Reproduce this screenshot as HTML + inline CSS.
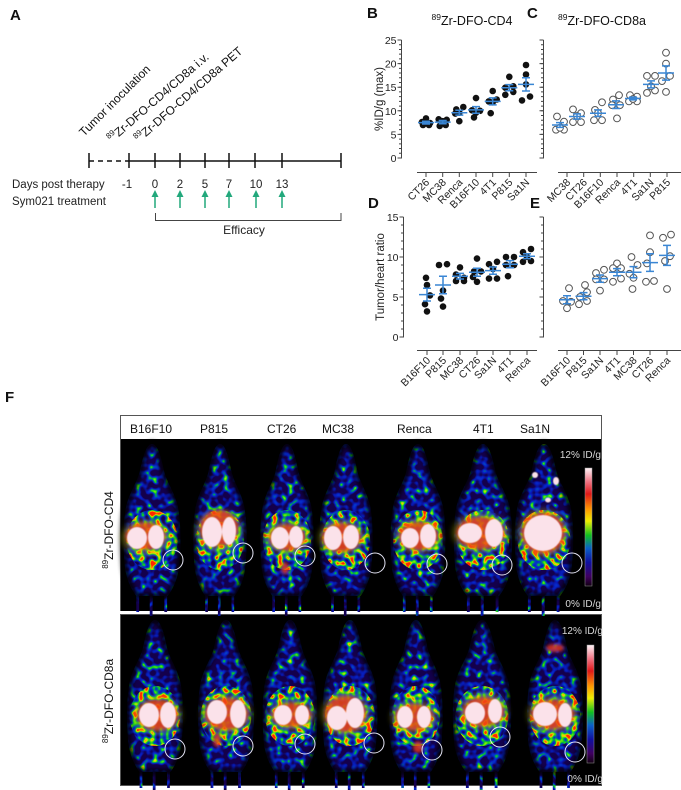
<!DOCTYPE html>
<html><head><meta charset="utf-8"><style>html,body{margin:0;padding:0;background:#fff}svg{display:block}text{font-family:"Liberation Sans",Arial,sans-serif}</style></head>
<body>
<svg width="681" height="790" viewBox="0 0 681 790" xmlns="http://www.w3.org/2000/svg">
<defs>
<path id="mb" d="M0,0 C5,0 8,12 11,28 C14,40 20,48 23,62 C26,78 26,105 24,125 C22,138 18,146 14,152 L-14,152 C-18,146 -22,138 -24,125 C-26,105 -26,78 -23,62 C-20,48 -14,40 -11,28 C-8,12 -5,0 0,0 Z M-14,150 h2.5 v18 h-2.5 Z M-2,150 h2.5 v22 h-2.5 Z M11,150 h2.5 v18 h-2.5 Z"/>
<path id="mo" d="M0,0 C5,0 8,12 11,28 C14,40 20,48 23,62 C26,78 26,105 24,125 C22,138 18,146 14,152 L-14,152 C-18,146 -22,138 -24,125 C-26,105 -26,78 -23,62 C-20,48 -14,40 -11,28 C-8,12 -5,0 0,0 Z"/>
<ellipse id="tor" cx="0" cy="96" rx="23" ry="30"/>
<clipPath id="cbT">
<use href="#mb" transform="translate(152,444) scale(1.12,1)"/>
<use href="#mb" transform="translate(220,444) scale(1.05,1)"/>
<use href="#mb" transform="translate(287,444) scale(1.05,1)"/>
<use href="#mb" transform="translate(346,444) scale(1.05,1)"/>
<use href="#mb" transform="translate(418,444) scale(1.08,1)"/>
<use href="#mb" transform="translate(483,444) scale(1.15,1)"/>
<use href="#mb" transform="translate(544,444) scale(1.15,1)"/>
</clipPath>
<clipPath id="ctT">
<use href="#tor" transform="translate(152,444) scale(1.12,1)"/>
<use href="#tor" transform="translate(220,444) scale(1.05,1)"/>
<use href="#tor" transform="translate(287,444) scale(1.05,1)"/>
<use href="#tor" transform="translate(346,444) scale(1.05,1)"/>
<use href="#tor" transform="translate(418,444) scale(1.08,1)"/>
<use href="#tor" transform="translate(483,444) scale(1.15,1)"/>
<use href="#tor" transform="translate(544,444) scale(1.15,1)"/>
</clipPath>
<clipPath id="cbB">
<use href="#mb" transform="translate(155,620) scale(1.1,1)"/>
<use href="#mb" transform="translate(226,620) scale(1.1,1)"/>
<use href="#mb" transform="translate(290,620) scale(1.08,1)"/>
<use href="#mb" transform="translate(350,620) scale(1.08,1)"/>
<use href="#mb" transform="translate(416,620) scale(1.05,1)"/>
<use href="#mb" transform="translate(482,620) scale(1.15,1)"/>
<use href="#mb" transform="translate(555,620) scale(1.1,1)"/>
</clipPath>
<clipPath id="ctB">
<use href="#tor" transform="translate(155,620) scale(1.1,1)"/>
<use href="#tor" transform="translate(226,620) scale(1.1,1)"/>
<use href="#tor" transform="translate(290,620) scale(1.08,1)"/>
<use href="#tor" transform="translate(350,620) scale(1.08,1)"/>
<use href="#tor" transform="translate(416,620) scale(1.05,1)"/>
<use href="#tor" transform="translate(482,620) scale(1.15,1)"/>
<use href="#tor" transform="translate(555,620) scale(1.1,1)"/>
</clipPath>
<filter id="sp1" x="100" y="430" width="520" height="370" filterUnits="userSpaceOnUse" color-interpolation-filters="sRGB">
<feTurbulence type="fractalNoise" baseFrequency="0.17" numOctaves="1" seed="7"/>
<feColorMatrix type="matrix" values="2.3 0 0 0 -1.0  2.3 0 0 0 -1.0  2.3 0 0 0 -1.0  0 0 0 0 1"/>
<feComponentTransfer>
<feFuncR type="table" tableValues="0.08 0.06 0.04 0.03 0.02 0.0 0.05 0.4 0.95 1 1"/>
<feFuncG type="table" tableValues="0.0 0.04 0.08 0.12 0.2 0.45 0.8 0.9 0.85 0.4 0.15"/>
<feFuncB type="table" tableValues="0.3 0.45 0.62 0.75 0.8 0.55 0.15 0.05 0 0 0"/>
</feComponentTransfer>
</filter>
<filter id="sp2" x="100" y="430" width="520" height="370" filterUnits="userSpaceOnUse" color-interpolation-filters="sRGB">
<feTurbulence type="fractalNoise" baseFrequency="0.18" numOctaves="1" seed="3"/>
<feColorMatrix type="matrix" values="2.3 0 0 0 -0.65  2.3 0 0 0 -0.65  2.3 0 0 0 -0.65  0 0 0 0 1"/>
<feComponentTransfer>
<feFuncR type="table" tableValues="0.08 0.06 0.04 0.03 0.02 0.0 0.05 0.4 0.95 1 1"/>
<feFuncG type="table" tableValues="0.0 0.04 0.08 0.12 0.2 0.45 0.8 0.9 0.85 0.4 0.15"/>
<feFuncB type="table" tableValues="0.3 0.45 0.62 0.75 0.8 0.55 0.15 0.05 0 0 0"/>
</feComponentTransfer>
</filter>
<filter id="bl3" x="-50%" y="-50%" width="200%" height="200%"><feGaussianBlur stdDeviation="3"/></filter>
<filter id="bl2" x="-50%" y="-50%" width="200%" height="200%"><feGaussianBlur stdDeviation="1.5"/></filter>
<filter id="bl1" x="-50%" y="-50%" width="200%" height="200%"><feGaussianBlur stdDeviation="0.6"/></filter>
<filter id="edge" x="-30%" y="-30%" width="160%" height="160%"><feGaussianBlur stdDeviation="2"/></filter>
<linearGradient id="cbar" x1="0" y1="0" x2="0" y2="1">
<stop offset="0" stop-color="#fff4f8"/>
<stop offset="0.12" stop-color="#f07080"/>
<stop offset="0.22" stop-color="#e01818"/>
<stop offset="0.35" stop-color="#ff9900"/>
<stop offset="0.45" stop-color="#eeee00"/>
<stop offset="0.57" stop-color="#10c020"/>
<stop offset="0.68" stop-color="#0a60c8"/>
<stop offset="0.8" stop-color="#1010a0"/>
<stop offset="0.92" stop-color="#400060"/>
<stop offset="1" stop-color="#120012"/>
</linearGradient>
</defs>
<rect width="681" height="790" fill="#fff"/>

<!-- Panel A -->
<text x="10" y="20" font-size="15" font-weight="bold" fill="#111">A</text>
<g font-size="12" fill="#111">
<text transform="translate(84,137) rotate(-45)">Tumor inoculation</text>
<text transform="translate(112,143) rotate(-41)"><tspan font-size="8" dy="-5">89</tspan><tspan dy="5">Zr-DFO-CD4/CD8a i.v.</tspan></text>
<text transform="translate(139,143) rotate(-41)"><tspan font-size="8" dy="-5">89</tspan><tspan dy="5">Zr-DFO-CD4/CD8a PET</tspan></text>
</g>
<line x1="89" y1="161" x2="129" y2="161" stroke="#111" stroke-width="1.5" stroke-dasharray="5 4"/>
<line x1="129" y1="161" x2="341" y2="161" stroke="#111" stroke-width="1.5"/>
<path d="M89,153V168M129,153V168M155,153V168M180,153V168M205,153V168M229,153V168M255,153V168M282,153V168M341,153V168" stroke="#111" stroke-width="1.5"/>
<g font-size="11.5" fill="#222">
<text x="12" y="188">Days post therapy</text>
<text x="12" y="205">Sym021 treatment</text>
<g text-anchor="middle">
<text x="127" y="188">-1</text><text x="155" y="188">0</text><text x="180" y="188">2</text><text x="205" y="188">5</text><text x="229" y="188">7</text><text x="256" y="188">10</text><text x="282" y="188">13</text>
<text x="244" y="234" font-size="12">Efficacy</text>
</g>
</g>
<g stroke="#22a87c" stroke-width="1.5">
<path d="M155,208V195M180,208V195M205,208V195M229,208V195M256,208V195M282,208V195"/>
</g>
<g fill="#22a87c">
<path d="M151.5,197L155,190L158.5,197Z"/><path d="M176.5,197L180,190L183.5,197Z"/><path d="M201.5,197L205,190L208.5,197Z"/><path d="M225.5,197L229,190L232.5,197Z"/><path d="M252.5,197L256,190L259.5,197Z"/><path d="M278.5,197L282,190L285.5,197Z"/>
</g>
<path d="M155.5,213V220.5H341V213" fill="none" stroke="#444" stroke-width="1"/>

<!-- Panel labels B-E -->
<g font-size="15" font-weight="bold" fill="#111">
<text x="367" y="18">B</text><text x="527" y="18">C</text>
<text x="368" y="208">D</text><text x="530" y="208">E</text>
</g>
<g font-size="12.5" fill="#111" text-anchor="middle">
<text x="472" y="25"><tspan font-size="8.5" dy="-5">89</tspan><tspan dy="5">Zr-DFO-CD4</tspan></text>
<text x="602" y="25"><tspan font-size="8.5" dy="-5">89</tspan><tspan dy="5">Zr-DFO-CD8a</tspan></text>
</g>

<!-- Axes B & C -->
<g stroke="#444" stroke-width="1" fill="none">
<path d="M401.5,40V158.5M397.5,40H401.5M397.5,63.6H401.5M397.5,87.2H401.5M397.5,110.8H401.5M397.5,134.4H401.5M397.5,158H401.5"/>
<path d="M543.5,40V158.5M539.5,40H543.5M539.5,63.6H543.5M539.5,87.2H543.5M539.5,110.8H543.5M539.5,134.4H543.5M539.5,158H543.5"/>
<path d="M417,172.5H537M426,172.5V177M442.7,172.5V177M459.3,172.5V177M476,172.5V177M492.7,172.5V177M509.3,172.5V177M526,172.5V177"/>
<path d="M558,172.5H681M567,172.5V177M583.7,172.5V177M600.3,172.5V177M617,172.5V177M633.7,172.5V177M650.3,172.5V177M667,172.5V177"/>
<!-- D & E -->
<path d="M403.5,217V337.5M399.5,217H403.5M399.5,257H403.5M399.5,297H403.5M399.5,337H403.5"/>
<path d="M543.5,217V337.5M539.5,217H543.5M539.5,257H543.5M539.5,297H543.5M539.5,337H543.5"/>
<path d="M417,350.5H537M427,350.5V355M443,350.5V355M460,350.5V355M477,350.5V355M493,350.5V355M510,350.5V355M527,350.5V355"/>
<path d="M558,350.5H681M567,350.5V355M583.5,350.5V355M600,350.5V355M617,350.5V355M633.5,350.5V355M650,350.5V355M667,350.5V355"/>
</g>
<g stroke="#444" stroke-width="2" fill="none">
<line x1="400" y1="158.5" x2="400" y2="39.5" stroke-dasharray="1 3.72"/>
<line x1="542" y1="158.5" x2="542" y2="39.5" stroke-dasharray="1 3.72"/>
<line x1="402" y1="337.5" x2="402" y2="216.5" stroke-dasharray="1 7"/>
<line x1="542" y1="337.5" x2="542" y2="216.5" stroke-dasharray="1 7"/>
</g>
<g font-size="10.5" fill="#222" text-anchor="end">
<text x="396.5" y="44">25</text><text x="396.5" y="67.6">20</text><text x="396.5" y="91.2">15</text><text x="396.5" y="114.8">10</text><text x="396.5" y="138.4">5</text><text x="396.5" y="162">0</text>
<text x="398.5" y="221">15</text><text x="398.5" y="261">10</text><text x="398.5" y="301">5</text><text x="398.5" y="341">0</text>
</g>
<g font-size="11.5" fill="#222" text-anchor="middle">
<text transform="translate(383,99) rotate(-90)">%ID/g (max)</text>
<text transform="translate(384,277) rotate(-90)">Tumor/heart ratio</text>
</g>
<!-- category labels -->
<g font-size="10.5" fill="#222" text-anchor="end">
<text transform="translate(430,183) rotate(-45)">CT26</text>
<text transform="translate(446.7,183) rotate(-45)">MC38</text>
<text transform="translate(463.3,183) rotate(-45)">Renca</text>
<text transform="translate(480,183) rotate(-45)">B16F10</text>
<text transform="translate(496.7,183) rotate(-45)">4T1</text>
<text transform="translate(513.3,183) rotate(-45)">P815</text>
<text transform="translate(530,183) rotate(-45)">Sa1N</text>
<text transform="translate(571,183) rotate(-45)">MC38</text>
<text transform="translate(587.7,183) rotate(-45)">CT26</text>
<text transform="translate(604.3,183) rotate(-45)">B16F10</text>
<text transform="translate(621,183) rotate(-45)">Renca</text>
<text transform="translate(637.7,183) rotate(-45)">4T1</text>
<text transform="translate(654.3,183) rotate(-45)">Sa1N</text>
<text transform="translate(671,183) rotate(-45)">P815</text>
<text transform="translate(431,361) rotate(-45)">B16F10</text>
<text transform="translate(447,361) rotate(-45)">P815</text>
<text transform="translate(464,361) rotate(-45)">MC38</text>
<text transform="translate(481,361) rotate(-45)">CT26</text>
<text transform="translate(497,361) rotate(-45)">Sa1N</text>
<text transform="translate(514,361) rotate(-45)">4T1</text>
<text transform="translate(531,361) rotate(-45)">Renca</text>
<text transform="translate(571,361) rotate(-45)">B16F10</text>
<text transform="translate(587.5,361) rotate(-45)">P815</text>
<text transform="translate(604,361) rotate(-45)">Sa1N</text>
<text transform="translate(621,361) rotate(-45)">4T1</text>
<text transform="translate(637.5,361) rotate(-45)">MC38</text>
<text transform="translate(654,361) rotate(-45)">CT26</text>
<text transform="translate(671,361) rotate(-45)">Renca</text>
</g>

<!-- B data -->
<g fill="#111">
<circle cx="426" cy="118.4" r="3.3"/><circle cx="422" cy="122.1" r="3.3"/><circle cx="430" cy="123.1" r="3.3"/><circle cx="423" cy="125" r="3.3"/><circle cx="429" cy="125" r="3.3"/>
<circle cx="438.7" cy="119.3" r="3.3"/><circle cx="446.7" cy="119.8" r="3.3"/><circle cx="442.7" cy="121.2" r="3.3"/><circle cx="439.7" cy="125.9" r="3.3"/><circle cx="445.7" cy="125" r="3.3"/>
<circle cx="463.3" cy="107" r="3.3"/><circle cx="456.3" cy="109.4" r="3.3"/><circle cx="459.3" cy="112.7" r="3.3"/><circle cx="455.3" cy="113.6" r="3.3"/><circle cx="459.3" cy="121.2" r="3.3"/>
<circle cx="476" cy="98.1" r="3.3"/><circle cx="472" cy="110.3" r="3.3"/><circle cx="480" cy="110.8" r="3.3"/><circle cx="476" cy="112.7" r="3.3"/><circle cx="474" cy="117.4" r="3.3"/>
<circle cx="492.7" cy="91" r="3.3"/><circle cx="488.7" cy="101.4" r="3.3"/><circle cx="496.7" cy="99.5" r="3.3"/><circle cx="492.7" cy="102.3" r="3.3"/><circle cx="490.7" cy="113.2" r="3.3"/>
<circle cx="509.3" cy="76.8" r="3.3"/><circle cx="513.3" cy="86.3" r="3.3"/><circle cx="505.3" cy="87.7" r="3.3"/><circle cx="505.3" cy="94.8" r="3.3"/><circle cx="513.3" cy="91.9" r="3.3"/>
<circle cx="526" cy="65" r="3.3"/><circle cx="526" cy="74.5" r="3.3"/><circle cx="526" cy="84.4" r="3.3"/><circle cx="522" cy="100.4" r="3.3"/><circle cx="530" cy="96.6" r="3.3"/>
</g>
<!-- D data -->
<g fill="#111">
<circle cx="426" cy="277.8" r="3.3"/><circle cx="427" cy="285" r="3.3"/><circle cx="430" cy="295.4" r="3.3"/><circle cx="425" cy="304.2" r="3.3"/><circle cx="427" cy="311.4" r="3.3"/>
<circle cx="439" cy="265" r="3.3"/><circle cx="447" cy="264.2" r="3.3"/><circle cx="443" cy="290.6" r="3.3"/><circle cx="441" cy="298.6" r="3.3"/><circle cx="443" cy="306.6" r="3.3"/>
<circle cx="460" cy="267.4" r="3.3"/><circle cx="456" cy="274.6" r="3.3"/><circle cx="464" cy="277.8" r="3.3"/><circle cx="456" cy="281" r="3.3"/><circle cx="464" cy="281" r="3.3"/>
<circle cx="477" cy="258.6" r="3.3"/><circle cx="474" cy="271.4" r="3.3"/><circle cx="481" cy="271.4" r="3.3"/><circle cx="473" cy="277" r="3.3"/><circle cx="477" cy="281.8" r="3.3"/>
<circle cx="489" cy="264.2" r="3.3"/><circle cx="497" cy="261.8" r="3.3"/><circle cx="493" cy="269" r="3.3"/><circle cx="489" cy="278.6" r="3.3"/><circle cx="497" cy="278.6" r="3.3"/>
<circle cx="506" cy="257" r="3.3"/><circle cx="514" cy="257" r="3.3"/><circle cx="506" cy="265" r="3.3"/><circle cx="514" cy="265" r="3.3"/><circle cx="508" cy="276.2" r="3.3"/>
<circle cx="531" cy="249" r="3.3"/><circle cx="523" cy="252.2" r="3.3"/><circle cx="523" cy="261.8" r="3.3"/><circle cx="531" cy="261" r="3.3"/><circle cx="527" cy="257" r="3.3"/>
</g>
<!-- C data -->
<g fill="#fff" stroke="#555" stroke-width="1">
<circle cx="557" cy="116.5" r="3.4"/><circle cx="564" cy="121.7" r="3.4"/><circle cx="556" cy="129.7" r="3.4"/><circle cx="564" cy="129.7" r="3.4"/><circle cx="560" cy="127.8" r="3.4"/>
<circle cx="573" cy="109.4" r="3.4"/><circle cx="581" cy="113.2" r="3.4"/><circle cx="573" cy="122.1" r="3.4"/><circle cx="581" cy="122.1" r="3.4"/><circle cx="577" cy="116" r="3.4"/>
<circle cx="602" cy="102.3" r="3.4"/><circle cx="595" cy="109.9" r="3.4"/><circle cx="594" cy="120.2" r="3.4"/><circle cx="602" cy="120.2" r="3.4"/><circle cx="598" cy="113.2" r="3.4"/>
<circle cx="619" cy="95.2" r="3.4"/><circle cx="613" cy="99.5" r="3.4"/><circle cx="620" cy="105.1" r="3.4"/><circle cx="612" cy="105.1" r="3.4"/><circle cx="617" cy="118.4" r="3.4"/>
<circle cx="630" cy="95.2" r="3.4"/><circle cx="637" cy="96.6" r="3.4"/><circle cx="629" cy="101.4" r="3.4"/><circle cx="637" cy="101.4" r="3.4"/><circle cx="633" cy="99" r="3.4"/>
<circle cx="647" cy="75.9" r="3.4"/><circle cx="655" cy="75.9" r="3.4"/><circle cx="647" cy="92.9" r="3.4"/><circle cx="655" cy="90.5" r="3.4"/><circle cx="651" cy="86.3" r="3.4"/>
<circle cx="666" cy="52.7" r="3.4"/><circle cx="666" cy="63.6" r="3.4"/><circle cx="662" cy="81.1" r="3.4"/><circle cx="670" cy="75.9" r="3.4"/><circle cx="666" cy="91.9" r="3.4"/>
</g>
<!-- E data -->
<g fill="#fff" stroke="#555" stroke-width="1">
<circle cx="569" cy="288.2" r="3.4"/><circle cx="563" cy="301" r="3.4"/><circle cx="571" cy="301.8" r="3.4"/><circle cx="567" cy="308.2" r="3.4"/>
<circle cx="585" cy="285" r="3.4"/><circle cx="587" cy="292.2" r="3.4"/><circle cx="579" cy="304.2" r="3.4"/><circle cx="587" cy="301" r="3.4"/><circle cx="580" cy="297" r="3.4"/>
<circle cx="596" cy="273" r="3.4"/><circle cx="604" cy="269.8" r="3.4"/><circle cx="596" cy="279.4" r="3.4"/><circle cx="604" cy="279.4" r="3.4"/><circle cx="600" cy="290.6" r="3.4"/>
<circle cx="617" cy="263.4" r="3.4"/><circle cx="613" cy="268.2" r="3.4"/><circle cx="621" cy="268.2" r="3.4"/><circle cx="613" cy="281.8" r="3.4"/><circle cx="621" cy="278.6" r="3.4"/>
<circle cx="631.5" cy="257" r="3.4"/><circle cx="637.5" cy="265" r="3.4"/><circle cx="629.5" cy="273.8" r="3.4"/><circle cx="633.5" cy="277.8" r="3.4"/><circle cx="632.5" cy="289" r="3.4"/>
<circle cx="650" cy="235.4" r="3.4"/><circle cx="650" cy="252.2" r="3.4"/><circle cx="647" cy="263.4" r="3.4"/><circle cx="646" cy="281.8" r="3.4"/><circle cx="654" cy="281" r="3.4"/>
<circle cx="663" cy="237.8" r="3.4"/><circle cx="671" cy="234.6" r="3.4"/><circle cx="670" cy="256.2" r="3.4"/><circle cx="665" cy="261" r="3.4"/><circle cx="667" cy="289" r="3.4"/>
</g>
<!-- means & SEM -->
<g stroke="#3a86d4" stroke-width="1.5" fill="none">
<path d="M418,122.6H434M426,121.2V124M422,121.2H430M422,124H430"/>
<path d="M434.7,122.1H450.7M442.7,120.5V123.8M438.7,120.5H446.7M438.7,123.8H446.7"/>
<path d="M451.3,112.7H467.3M459.3,110.3V115.1M455.3,110.3H463.3M455.3,115.1H463.3"/>
<path d="M468,109.9H484M476,106.6V113.2M472,106.6H480M472,113.2H480"/>
<path d="M484.7,101.4H500.7M492.7,97.9V104.9M488.7,97.9H496.7M488.7,104.9H496.7"/>
<path d="M501.3,87.7H517.3M509.3,84.6V90.8M505.3,84.6H513.3M505.3,90.8H513.3"/>
<path d="M518,84.4H534M526,77.8V91M522,77.8H530M522,91H530"/>

<path d="M552,125H568M560,122.6V127.4M556,122.6H564M556,127.4H564"/>
<path d="M569,116.5H585M577,113.9V119.1M573,113.9H581M573,119.1H581"/>
<path d="M590,113.2H606M598,109.9V116.5M594,109.9H602M594,116.5H602"/>
<path d="M608,104.7H624M616,100.9V108.5M612,100.9H620M612,108.5H620"/>
<path d="M625,98.5H641M633,97.1V99.9M629,97.1H637M629,99.9H637"/>
<path d="M643,84.4H659M651,80.9V87.9M647,80.9H655M647,87.9H655"/>
<path d="M658,73H674M666,65.9V80.1M662,65.9H670M662,80.1H670"/>

<path d="M419,294.6H435M427,288.2V301M423,288.2H431M423,301H431"/>
<path d="M435,285H451M443,276.2V293.8M439,276.2H447M439,293.8H447"/>
<path d="M452,276.2H468M460,273.4V279M456,273.4H464M456,279H464"/>
<path d="M469,272.2H485M477,268.2V276.2M473,268.2H481M473,276.2H481"/>
<path d="M485,270.6H501M493,267V274.2M489,267H497M489,274.2H497"/>
<path d="M502,264.2H518M510,260.6V267.8M506,260.6H514M506,267.8H514"/>
<path d="M519,256.2H535M527,253.8V258.6M523,253.8H531M523,258.6H531"/>

<path d="M559,299.8H575M567,295.8V303.8M563,295.8H571M563,303.8H571"/>
<path d="M575.5,296.2H591.5M583.5,292.6V299.8M579.5,292.6H587.5M579.5,299.8H587.5"/>
<path d="M592,278.6H608M600,275V282.2M596,275H604M596,282.2H604"/>
<path d="M609,272.2H625M617,268.6V275.8M613,268.6H621M613,275.8H621"/>
<path d="M625.5,272.2H641.5M633.5,266.6V277.8M629.5,266.6H637.5M629.5,277.8H637.5"/>
<path d="M642,262.6H658M650,253.8V271.4M646,253.8H654M646,271.4H654"/>
<path d="M659,255.4H675M667,245.4V265.4M663,245.4H671M663,265.4H671"/>
</g>

<!-- Panel F -->
<text x="5" y="402" font-size="15" font-weight="bold" fill="#111">F</text>
<rect x="120.5" y="415.5" width="481" height="195" fill="#fff" stroke="#555" stroke-width="1"/>
<rect x="121" y="439" width="480" height="172" fill="#000"/>
<rect x="120.5" y="614.5" width="481" height="171" fill="#000" stroke="#555" stroke-width="1"/>
<g font-size="12" fill="#111">
<text x="130" y="433">B16F10</text><text x="200" y="433">P815</text><text x="267" y="433">CT26</text><text x="322" y="433">MC38</text><text x="397" y="433">Renca</text><text x="473" y="433">4T1</text><text x="520" y="433">Sa1N</text>
</g>
<g font-size="12" fill="#111" text-anchor="middle">
<text transform="translate(113,530) rotate(-90)"><tspan font-size="8" dy="-5">89</tspan><tspan dy="5">Zr-DFO-CD4</tspan></text>
<text transform="translate(113,701) rotate(-90)"><tspan font-size="8" dy="-5">89</tspan><tspan dy="5">Zr-DFO-CD8a</tspan></text>
</g>

<!-- mice: speckled bodies -->
<rect x="121" y="439" width="480" height="172" fill="#000" filter="url(#sp1)" clip-path="url(#cbT)"/>
<rect x="121" y="439" width="480" height="172" fill="#000" filter="url(#sp2)" clip-path="url(#ctT)"/>
<rect x="121" y="615" width="480" height="171" fill="#000" filter="url(#sp1)" clip-path="url(#cbB)"/>
<rect x="121" y="615" width="480" height="171" fill="#000" filter="url(#sp2)" clip-path="url(#ctB)"/>
<!-- dark body edges -->
<g fill="none" stroke="#000" stroke-width="6" opacity="0.85" filter="url(#edge)">
<use href="#mo" transform="translate(152,444) scale(1.12,1)"/>
<use href="#mo" transform="translate(220,444) scale(1.05,1)"/>
<use href="#mo" transform="translate(287,444) scale(1.05,1)"/>
<use href="#mo" transform="translate(346,444) scale(1.05,1)"/>
<use href="#mo" transform="translate(418,444) scale(1.08,1)"/>
<use href="#mo" transform="translate(483,444) scale(1.15,1)"/>
<use href="#mo" transform="translate(544,444) scale(1.15,1)"/>
<use href="#mo" transform="translate(155,620) scale(1.1,1)"/>
<use href="#mo" transform="translate(226,620) scale(1.1,1)"/>
<use href="#mo" transform="translate(290,620) scale(1.08,1)"/>
<use href="#mo" transform="translate(350,620) scale(1.08,1)"/>
<use href="#mo" transform="translate(416,620) scale(1.05,1)"/>
<use href="#mo" transform="translate(482,620) scale(1.15,1)"/>
<use href="#mo" transform="translate(555,620) scale(1.1,1)"/>
</g>

<!-- halos -->
<g fill="#d8e010" opacity="0.35" filter="url(#bl3)">
<ellipse cx="145.5" cy="537.5" rx="24" ry="18"/><ellipse cx="219" cy="531" rx="23" ry="21"/><ellipse cx="287" cy="537.5" rx="22" ry="17"/><ellipse cx="341.5" cy="537.5" rx="23" ry="18"/><ellipse cx="418.5" cy="536" rx="23" ry="18"/><ellipse cx="480.5" cy="533" rx="28" ry="20"/><ellipse cx="543" cy="533" rx="25" ry="24"/>
<ellipse cx="157.5" cy="715" rx="24" ry="19"/><ellipse cx="226.5" cy="714" rx="25" ry="20"/><ellipse cx="291.5" cy="715" rx="23" ry="16"/><ellipse cx="345.5" cy="714" rx="24" ry="22"/><ellipse cx="414" cy="717" rx="23" ry="17"/><ellipse cx="483.5" cy="711.5" rx="24" ry="19"/><ellipse cx="552.5" cy="714.5" rx="25" ry="19"/>
</g>
<g fill="#f03a18" opacity="0.8" filter="url(#bl2)">
<ellipse cx="145.5" cy="536" rx="20" ry="13.5"/><ellipse cx="219" cy="528" rx="19" ry="18"/><ellipse cx="287" cy="537.5" rx="18" ry="13"/><ellipse cx="341.5" cy="537.5" rx="19.5" ry="14.5"/><ellipse cx="418.5" cy="536" rx="19.5" ry="14"/><ellipse cx="480.5" cy="533" rx="24" ry="16"/><ellipse cx="543" cy="533" rx="21.5" ry="20.5"/>
<ellipse cx="157.5" cy="715" rx="20.5" ry="15"/><ellipse cx="226.5" cy="714" rx="21.5" ry="16"/><ellipse cx="291.5" cy="715" rx="19.5" ry="12"/><ellipse cx="345.5" cy="714" rx="20.5" ry="18"/><ellipse cx="414" cy="717" rx="19" ry="13"/><ellipse cx="483.5" cy="711.5" rx="20.5" ry="14.5"/><ellipse cx="552.5" cy="714.5" rx="21.5" ry="14.5"/>
<ellipse cx="285" cy="568" rx="4" ry="6"/><ellipse cx="217" cy="740" rx="4" ry="7"/><ellipse cx="418" cy="747" rx="5" ry="6"/>
<ellipse cx="555" cy="648" rx="9" ry="4"/>
</g>
<!-- white organ blobs -->
<g fill="#fbe2ea" filter="url(#bl1)">
<ellipse cx="137" cy="538" rx="10" ry="11"/><ellipse cx="156" cy="537" rx="8" ry="12"/>
<ellipse cx="212" cy="532" rx="10" ry="15"/><ellipse cx="229" cy="531" rx="7" ry="14"/>
<ellipse cx="280" cy="538" rx="9" ry="11"/><ellipse cx="296" cy="537" rx="7" ry="11"/>
<ellipse cx="333" cy="538" rx="9" ry="12"/><ellipse cx="351" cy="537" rx="8" ry="12"/>
<ellipse cx="410" cy="538" rx="9" ry="10"/><ellipse cx="428" cy="536" rx="8" ry="12"/>
<ellipse cx="470" cy="533" rx="12" ry="10"/><ellipse cx="494" cy="533" rx="9" ry="14"/>
<ellipse cx="543" cy="533" rx="19" ry="18"/>
<ellipse cx="149" cy="715" rx="10" ry="12"/><ellipse cx="168" cy="715" rx="8" ry="13"/>
<ellipse cx="217" cy="712" rx="10" ry="12"/><ellipse cx="238" cy="714" rx="8" ry="14"/>
<ellipse cx="283" cy="715" rx="9" ry="10"/><ellipse cx="302" cy="715" rx="7" ry="10"/>
<ellipse cx="337" cy="718" rx="10" ry="12"/><ellipse cx="355" cy="713" rx="9" ry="15"/>
<ellipse cx="405" cy="717" rx="8" ry="11"/><ellipse cx="424" cy="717" rx="7" ry="11"/>
<ellipse cx="475" cy="713" rx="10" ry="11"/><ellipse cx="495" cy="711" rx="7" ry="12"/>
<ellipse cx="545" cy="714" rx="12" ry="12"/><ellipse cx="565" cy="715" rx="7" ry="12"/>
<ellipse cx="535" cy="475" rx="3" ry="3"/><ellipse cx="556" cy="481" rx="3" ry="4"/><ellipse cx="548" cy="500" rx="3" ry="2.5"/>
</g>
<!-- tumor circles -->
<g fill="none" stroke="#e4e4f4" stroke-width="1">
<circle cx="173" cy="560" r="10"/><circle cx="243" cy="553" r="10"/><circle cx="305" cy="556" r="10"/><circle cx="375" cy="563" r="10"/><circle cx="437" cy="564" r="10"/><circle cx="502" cy="565" r="10"/><circle cx="572" cy="563" r="10"/>
<circle cx="175" cy="749" r="10"/><circle cx="243" cy="746" r="10"/><circle cx="305" cy="744" r="10"/><circle cx="374" cy="743" r="10"/><circle cx="432" cy="750" r="10"/><circle cx="500" cy="737" r="10"/><circle cx="575" cy="752" r="10"/>
</g>
<!-- colour bars -->
<rect x="585" y="468" width="7" height="118" fill="url(#cbar)" stroke="#999" stroke-width="0.5"/>
<rect x="587" y="645" width="7" height="118" fill="url(#cbar)" stroke="#999" stroke-width="0.5"/>
<g font-size="10" fill="#d8d8d8" text-anchor="end">
<text x="601" y="458">12% ID/g</text><text x="601" y="607">0% ID/g</text>
<text x="603" y="634">12% ID/g</text><text x="603" y="782">0% ID/g</text>
</g>
</svg>
</body></html>
